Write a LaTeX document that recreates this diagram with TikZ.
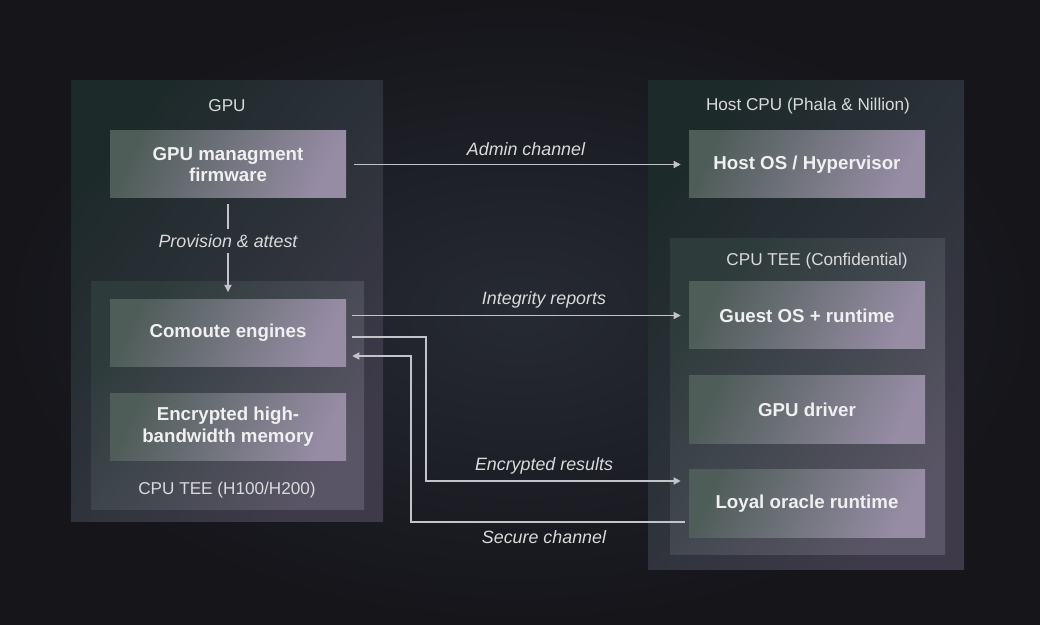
\documentclass[tikz,border=0pt]{standalone}
\usepackage{fontspec}
\setmainfont{Liberation Sans}
\usetikzlibrary{arrows.meta}
\definecolor{bgdark}{HTML}{15151A}
\definecolor{bgmid}{HTML}{262A33}
\definecolor{panelA}{HTML}{1D2A2A}
\definecolor{panelB}{HTML}{3E3A4A}
\definecolor{innerA}{HTML}{2D3B3A}
\definecolor{innerB}{HTML}{5A5566}
\definecolor{boxA}{HTML}{4F5D59}
\definecolor{boxB}{HTML}{968CA4}
\definecolor{linkgray}{HTML}{C4C4C8}
\definecolor{titlegray}{HTML}{DADADA}
\tikzset{
    panel/.style={top color=panelA, bottom color=panelB, shading angle=50},
    innerpanel/.style={top color=innerA, bottom color=innerB, shading angle=50},
    unit/.style={top color=boxA, bottom color=boxB, shading angle=65,
        minimum width=5.9cm, minimum height=1.675cm, inner sep=0pt,
        text=white!94!black, align=center,
        font=\fontsize{13.3}{15.5}\selectfont\bfseries},
    title/.style={text=titlegray, font=\fontsize{12.2}{14}\selectfont},
    linklabel/.style={text=titlegray, font=\fontsize{12.7}{14}\selectfont\itshape},
    link/.style={draw=linkgray, line width=0.9pt, -{Triangle[length=5pt,width=5pt]}},
    wire/.style={draw=linkgray, line width=0.9pt},
}
\begin{document}
\begin{tikzpicture}
        \shade [inner color=bgmid, outer color=bgdark] (0,0) rectangle (26,-15.625);
        \useasboundingbox (0,0) rectangle (26,-15.625);
        % panels
        \shade [panel] (1.775,-2.025) rectangle (9.575,-13.025);
        \shade [innerpanel] (2.275,-7.05) rectangle (9.1,-12.725);
        \shade [panel] (16.2,-2.025) rectangle (24.1,-14.225);
        \shade [innerpanel] (16.75,-5.975) rectangle (23.625,-13.85);
        \node [title] (gpu) at (5.675,-2.65) {GPU};
        \node [title] (gtee) at (5.675,-12.25) {CPU TEE (H100/H200)};
        \node [title] (host) at (20.2,-2.65) {Host CPU (Phala \& Nillion)};
        \node [title] (ctee) at (20.425,-6.525) {CPU TEE (Confidential)};
        % boxes
        \node [unit] (fw) at (5.7,-4.1125) {GPU managment\\firmware};
        \node [unit] (ce) at (5.7,-8.325) {Comoute engines};
        \node [unit] (hbm) at (5.7,-10.675) {Encrypted high-\\bandwidth memory};
        \node [unit] (hv) at (20.175,-4.1125) {Host OS / Hypervisor};
        \node [unit] (go) at (20.175,-7.8875) {Guest OS + runtime};
        \node [unit] (gd) at (20.175,-10.2375) {GPU driver};
        \node [unit] (lo) at (20.175,-12.5875) {Loyal oracle runtime};
        % links
        \node [linklabel,inner ysep=4pt] (pa) at (5.7,-6.025) {Provision \& attest};
        \draw [wire,shorten <=0.15cm] (fw.south) -- (pa.north);
        \draw [link,shorten >=0.18cm] (pa.south) -- (ce.north);
        \draw [link,shorten <=0.2cm,shorten >=0.2cm] (fw.east) -- (hv.west);
        \node [linklabel] (ac) at (13.15,-3.725) {Admin channel};
        \draw [link,shorten <=0.15cm,shorten >=0.2cm] (ce.east |- go.west) -- (go.west);
        \node [linklabel] (ir) at (13.6,-7.5) {Integrity reports};
        \coordinate (er) at (10.65,-12.025);
        \draw [link,shorten <=0.15cm,shorten >=0.2cm] ([yshift=-0.1cm]ce.east) -| (er) -- (er -| lo.west);
        \node [linklabel] (erl) at (13.6,-11.65) {Encrypted results};
        \coordinate (sc) at (10.275,-13.05);
        \draw [link,shorten <=0.1cm,shorten >=0.15cm] (sc -| lo.west) -- (sc) |- ([yshift=-0.575cm]ce.east);
        \node [linklabel] (scl) at (13.6,-13.425) {Secure channel};
\end{tikzpicture}
\end{document}
